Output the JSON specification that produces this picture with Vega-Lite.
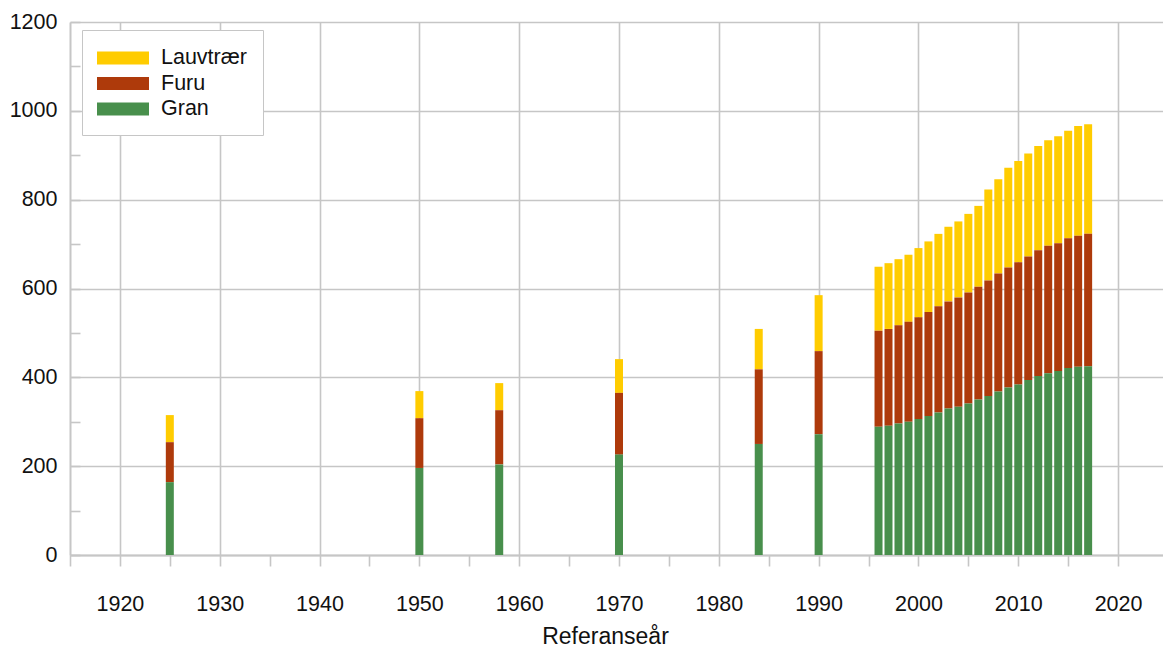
{
  "$schema": "https://vega.github.io/schema/vega-lite/v6.json",
  "width": 1093,
  "height": 533,
  "autosize": {"type": "none"},
  "padding": {"left": 70, "top": 22, "right": 0, "bottom": 93},
  "background": "white",
  "config": {
    "view": {"stroke": null},
    "font": "Liberation Sans",
    "axis": {
      "domainColor": "#c6c6c6",
      "domainWidth": 2,
      "gridColor": "#c6c6c6",
      "gridWidth": 1.6,
      "tickColor": "#c6c6c6",
      "tickWidth": 1.6,
      "labelColor": "#111111",
      "labelFont": "Liberation Sans",
      "labelFontSize": 21.5,
      "titleColor": "#111111",
      "titleFont": "Liberation Sans",
      "titleFontWeight": "normal"
    }
  },
  "data": {
    "values": [
      {"år": 1925, "Gran": 164, "Furu": 90, "Lauvtrær": 61},
      {"år": 1950, "Gran": 196, "Furu": 112, "Lauvtrær": 61},
      {"år": 1958, "Gran": 204, "Furu": 122, "Lauvtrær": 61},
      {"år": 1970, "Gran": 226, "Furu": 139, "Lauvtrær": 76},
      {"år": 1984, "Gran": 250, "Furu": 168, "Lauvtrær": 91},
      {"år": 1990, "Gran": 272, "Furu": 187, "Lauvtrær": 126},
      {"år": 1996, "Gran": 289, "Furu": 216, "Lauvtrær": 144},
      {"år": 1997, "Gran": 291, "Furu": 218, "Lauvtrær": 148},
      {"år": 1998, "Gran": 296, "Furu": 221, "Lauvtrær": 149},
      {"år": 1999, "Gran": 300, "Furu": 225, "Lauvtrær": 151},
      {"år": 2000, "Gran": 306, "Furu": 229, "Lauvtrær": 156},
      {"år": 2001, "Gran": 313, "Furu": 234, "Lauvtrær": 159},
      {"år": 2002, "Gran": 321, "Furu": 239, "Lauvtrær": 163},
      {"år": 2003, "Gran": 330, "Furu": 241, "Lauvtrær": 168},
      {"år": 2004, "Gran": 334, "Furu": 246, "Lauvtrær": 171},
      {"år": 2005, "Gran": 341, "Furu": 250, "Lauvtrær": 177},
      {"år": 2006, "Gran": 350, "Furu": 254, "Lauvtrær": 182},
      {"år": 2007, "Gran": 358, "Furu": 260, "Lauvtrær": 205},
      {"år": 2008, "Gran": 368, "Furu": 266, "Lauvtrær": 212},
      {"år": 2009, "Gran": 377, "Furu": 270, "Lauvtrær": 225},
      {"år": 2010, "Gran": 384, "Furu": 275, "Lauvtrær": 228},
      {"år": 2011, "Gran": 394, "Furu": 278, "Lauvtrær": 232},
      {"år": 2012, "Gran": 403, "Furu": 283, "Lauvtrær": 235},
      {"år": 2013, "Gran": 409, "Furu": 287, "Lauvtrær": 238},
      {"år": 2014, "Gran": 414, "Furu": 288, "Lauvtrær": 241},
      {"år": 2015, "Gran": 421, "Furu": 292, "Lauvtrær": 242},
      {"år": 2016, "Gran": 424, "Furu": 295, "Lauvtrær": 247},
      {"år": 2017, "Gran": 425, "Furu": 298, "Lauvtrær": 247}
    ]
  },
  "transform": [
    {"fold": ["Lauvtrær", "Furu", "Gran"], "as": ["art", "volum"]},
    {"calculate": "indexof(['Gran', 'Furu', 'Lauvtrær'], datum.art)", "as": "rang"}
  ],
  "mark": {"type": "bar", "width": 8},
  "encoding": {
    "x": {
      "field": "år",
      "type": "quantitative",
      "scale": {"domain": [1915, 2024.5], "nice": false, "zero": false, "padding": 0},
      "axis": {
        "values": [1915, 1920, 1925, 1930, 1935, 1940, 1945, 1950, 1955, 1960, 1965, 1970, 1975, 1980, 1985, 1990, 1995, 2000, 2005, 2010, 2015, 2020],
        "format": "d",
        "labelExpr": "datum.value % 10 === 0 ? datum.label : ''",
        "gridOpacity": {"condition": {"test": "datum.value % 10 === 0", "value": 1}, "value": 0},
        "tickSize": 11,
        "labelPadding": 27,
        "title": "Referanseår",
        "titleFontSize": 23,
        "titlePadding": 11,
        "titleX": 535
      }
    },
    "y": {
      "field": "volum",
      "type": "quantitative",
      "stack": "zero",
      "scale": {"domain": [0, 1200], "nice": false},
      "axis": {
        "values": [0, 100, 200, 300, 400, 500, 600, 700, 800, 900, 1000, 1100, 1200],
        "format": "d",
        "labelExpr": "datum.value % 200 === 0 ? datum.label : ''",
        "gridOpacity": {"condition": {"test": "datum.value % 200 === 0", "value": 1}, "value": 0},
        "tickSize": -10,
        "labelPadding": 23,
        "title": null
      }
    },
    "order": {"field": "rang", "type": "quantitative", "sort": "ascending"},
    "color": {
      "field": "art",
      "type": "nominal",
      "scale": {"domain": ["Lauvtrær", "Furu", "Gran"], "range": ["#FFCC00", "#AE3A0B", "#488F4C"]},
      "legend": {
        "orient": "none",
        "legendX": 12,
        "legendY": 8,
        "title": null,
        "symbolType": "M-1,-0.5L3,-0.5L3,0.5L-1,0.5Z",
        "symbolSize": 676,
        "symbolStrokeWidth": 0,
        "symbolOpacity": 1,
        "labelFontSize": 21.5,
        "labelColor": "#111111",
        "labelOffset": 38,
        "padding": 15,
        "rowPadding": 1.5,
        "strokeColor": "#c6c6c6",
        "fillColor": "white"
      }
    }
  }
}
